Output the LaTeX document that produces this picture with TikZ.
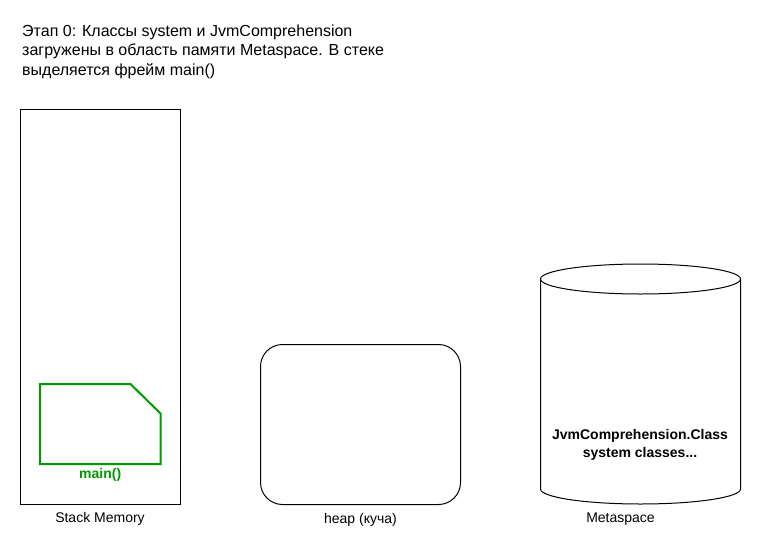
\documentclass[tikz,border=0pt]{standalone}
\usepackage{fontspec}
\setmainfont{Liberation Sans}
\usetikzlibrary{shapes.geometric}
\definecolor{frameGreen}{RGB}{0,153,0}
\begin{document}
\begin{tikzpicture}[x=1pt,y=-1pt,
  txt/.style={font=\fontsize{14}{19}\selectfont, inner sep=0pt},
  box/.style={draw=black, line width=1pt},
]
\useasboundingbox (0,0) rectangle (761,555);
% title
\node[txt, font=\fontsize{16}{19.2}\selectfont, anchor=north west, align=left] (title) at (22,25)
  {Этап 0: Классы system и JvmComprehension\\загружены в область памяти Metaspace. В стеке\\выделяется фрейм main()};
% stack memory
\node[box, minimum width=160pt, minimum height=395pt, inner sep=0pt] (stack) at (100,306.5) {};
\node[txt] (stacklbl) at (100,519) {Stack Memory};
% main frame
\draw[frameGreen, line width=2pt, line join=miter] (40,384) coordinate (m1) -- (130.5,384) -- (160.5,413.5) -- (160.5,464) -- (40,464) -- cycle;
\node[txt, font=\fontsize{14}{17}\bfseries, text=frameGreen] (mainlbl) at (100.2,475) {main()};
% heap
\node[box, rounded corners=22pt, minimum width=200pt, minimum height=160pt, inner sep=0pt] (heap) at (360.5,424.5) {};
\node[txt] (heaplbl) at (360.5,520) {heap (куча)};
% metaspace cylinder
\draw[box] (540.5,279) -- (540.5,489) arc[start angle=180, end angle=360, x radius=100pt, y radius=15pt] -- (740.5,279);
\draw[box] (640.5,279) ellipse[x radius=100pt, y radius=15pt];
\node[txt, font=\fontsize{14}{18}\bfseries, align=center] (metatxt) at (640,444.5) {JvmComprehension.Class\\system classes...};
\node[txt] (metalbl) at (620.5,519) {Metaspace};
\end{tikzpicture}
\end{document}
